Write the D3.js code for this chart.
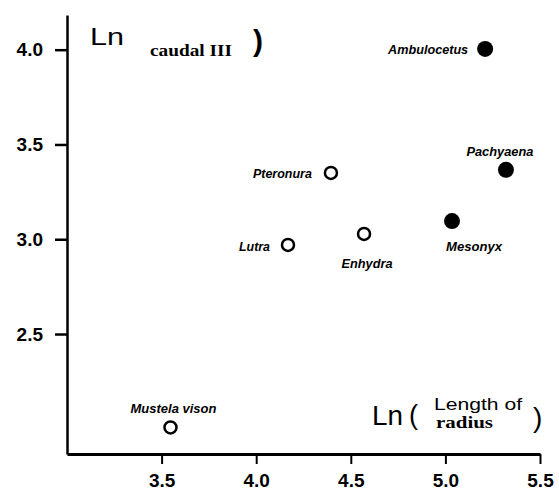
<!DOCTYPE html>
<html>
<head>
<meta charset="utf-8">
<script src="https://cdn.jsdelivr.net/npm/d3@7"></script>
<style>
  html, body { margin: 0; padding: 0; background: #fff; }
  svg { display: block; }
</style>
</head>
<body>
<svg id="chart" width="559" height="491"></svg>
<script>
// ---- data ----
const taxa      = ["Ambulocetus", "Pachyaena", "Mesonyx", "Pteronura", "Lutra", "Enhydra", "Mustela vison"];
const lnRadius  = [5.21, 5.32, 5.035, 4.395, 4.168, 4.57, 3.547];
const lnCaudal  = [4.004, 3.366, 3.096, 3.35, 2.97, 3.028, 2.007];
const filled    = [true, true, true, false, false, false, false];
const xTicks    = [3.5, 4.0, 4.5, 5.0, 5.5];
const yTicks    = [2.5, 3.0, 3.5, 4.0];

// label placement (offsets relative to the point, not data)
const labelPos = {
  "Ambulocetus":   {dx: -17, dy: 5,   anchor: "end",   len: 80},
  "Pachyaena":     {dx: -6,  dy: -14, anchor: "middle",len: 67},
  "Mesonyx":       {dx: 22,  dy: 30,  anchor: "middle",len: 56},
  "Pteronura":     {dx: -19, dy: 5,   anchor: "end",   len: 59},
  "Lutra":         {dx: -18, dy: 6,   anchor: "end",   len: 31},
  "Enhydra":       {dx: 3,   dy: 34,  anchor: "middle",len: 51},
  "Mustela vison": {dx: 3,   dy: -14, anchor: "middle",len: 86}
};

const svg = d3.select("#chart");
const x = d3.scaleLinear().domain([3.0, 5.5]).range([67, 540]);
const y = d3.scaleLinear().domain([1.867, 4.183]).range([454, 15]);

// axes
const gx = svg.append("g").attr("transform", "translate(0,454)")
  .call(d3.axisBottom(x).tickValues(xTicks).tickSize(10).tickSizeOuter(0)
        .tickFormat(d3.format(".1f")));
gx.select(".domain").attr("stroke", "#000").attr("stroke-width", 3);
gx.selectAll(".tick line").attr("stroke", "#000").attr("stroke-width", 2);
gx.selectAll(".tick text").attr("fill", "#000").attr("y", 33).attr("dy", null)
  .style("font-family", "'Liberation Sans', Arial, sans-serif")
  .style("font-size", "19px").style("font-weight", "bold");

const gy = svg.append("g").attr("transform", "translate(67,0)")
  .call(d3.axisLeft(y).tickValues(yTicks).tickSize(12).tickSizeOuter(0)
        .tickPadding(12).tickFormat(d3.format(".1f")));
gy.select(".domain").attr("stroke", "#000").attr("stroke-width", 2.5);
gy.selectAll(".tick line").attr("stroke", "#000").attr("stroke-width", 2.5);
gy.selectAll(".tick text").attr("fill", "#000")
  .style("font-family", "'Liberation Sans', Arial, sans-serif")
  .style("font-size", "19px").style("font-weight", "bold");

// points
const data = taxa.map((t, i) => ({name: t, xv: lnRadius[i], yv: lnCaudal[i], f: filled[i]}));
svg.append("g").selectAll("circle").data(data).join("circle")
  .attr("cx", d => x(d.xv)).attr("cy", d => y(d.yv))
  .attr("r", d => d.f ? 8 : 6)
  .attr("fill", d => d.f ? "#000" : "#fff")
  .attr("stroke", "#000")
  .attr("stroke-width", d => d.f ? 0 : 2.5);

// labels
svg.append("g").selectAll("text").data(data).join("text")
  .attr("x", d => x(d.xv) + labelPos[d.name].dx)
  .attr("y", d => y(d.yv) + labelPos[d.name].dy)
  .attr("text-anchor", d => labelPos[d.name].anchor)
  .attr("textLength", d => labelPos[d.name].len)
  .attr("lengthAdjust", "spacingAndGlyphs")
  .style("font-family", "'Liberation Sans', Arial, sans-serif")
  .style("font-size", "12px").style("font-weight", "bold").style("font-style", "italic")
  .text(d => d.name);

// axis titles
const sans = "'Liberation Sans', Arial, sans-serif";
const serif = "'Liberation Serif', 'Times New Roman', serif";
svg.append("text").attr("x", 90).attr("y", 45).attr("textLength", 34).attr("lengthAdjust", "spacingAndGlyphs")
  .style("font-family", sans).style("font-size", "23px").text("Ln");
svg.append("text").attr("x", 150).attr("y", 56).attr("textLength", 82).attr("lengthAdjust", "spacingAndGlyphs")
  .style("font-family", serif).style("font-size", "16px").style("font-weight", "bold").text("caudal III");
svg.append("text").attr("x", 253).attr("y", 51)
  .style("font-family", sans).style("font-size", "30px").style("font-weight", "bold").text(")");

svg.append("text").attr("x", 372).attr("y", 425).attr("textLength", 31).attr("lengthAdjust", "spacingAndGlyphs")
  .style("font-family", sans).style("font-size", "28px").text("Ln");
svg.append("text").attr("x", 409).attr("y", 424)
  .style("font-family", sans).style("font-size", "27px").text("(");
svg.append("text").attr("x", 434).attr("y", 410).attr("textLength", 88).attr("lengthAdjust", "spacingAndGlyphs")
  .style("font-family", sans).style("font-size", "17px").text("Length of");
svg.append("text").attr("x", 436).attr("y", 428).attr("textLength", 57).attr("lengthAdjust", "spacingAndGlyphs")
  .style("font-family", serif).style("font-size", "17px").style("font-weight", "bold").text("radius");
svg.append("text").attr("x", 533).attr("y", 427)
  .style("font-family", sans).style("font-size", "28px").text(")");
</script>
</body>
</html>
